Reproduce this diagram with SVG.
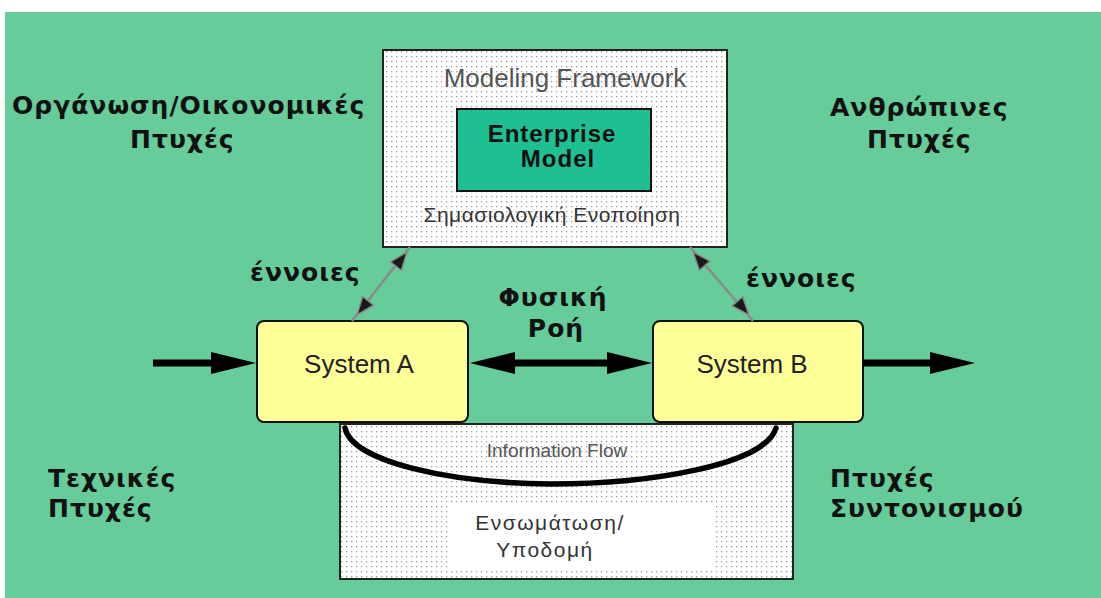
<svg xmlns="http://www.w3.org/2000/svg" xmlns:xlink="http://www.w3.org/1999/xlink" width="1101" height="598" viewBox="0 0 1101 598">
  <style>
    .lbl { font-family: "DejaVu Sans", "Liberation Sans", sans-serif; font-weight: bold; font-size: 25px; fill: #111; letter-spacing: 1px; }
    .sys { fill: #ffff99; stroke: #111; stroke-width: 2; }
    .sysTxt { font-family: "Liberation Sans", Arial, sans-serif; font-size: 26px; fill: #222; text-anchor: middle; }
    .dotted { fill: url(#dots); stroke: #222; stroke-width: 2; }
    .shaft { stroke: #000; stroke-width: 7; fill: none; }
    .concept { stroke: #8a8a8a; stroke-width: 2.5; fill: none; }
    .cHead { fill: #1a1a1a; stroke: #8a8a8a; stroke-width: 1.5; stroke-linejoin: round; }
    .greyTxt { font-family: "Liberation Sans", Arial, sans-serif; fill: #555; text-anchor: middle; }
    .darkTxt { font-family: "Liberation Sans", Arial, sans-serif; fill: #333; text-anchor: middle; }
  </style>
  <defs>
    <pattern id="dots" width="5" height="5" patternUnits="userSpaceOnUse">
      <rect width="5" height="5" fill="#ffffff"/>
      <rect x="1" y="1" width="1.3" height="1.3" fill="#9a9a9a"/>
    </pattern>
    <!-- heavy black arrowhead, tip at origin pointing +x -->
    <path id="headR" d="M-45,-11 L0,0 L-45,11 Z" fill="#000"/>
    <!-- small concept arrowhead, tip at origin pointing +x -->
    <path id="cHead" class="cHead" d="M0,0 L-18,-7 L-18,7 Z"/>
  </defs>

  <!-- background -->
  <rect width="1101" height="598" fill="#ffffff"/>
  <rect x="5" y="12" width="1096" height="586" fill="#66cc99"/>

  <!-- corner labels -->
  <g id="label-org">
    <text class="lbl" x="12" y="114">Οργάνωση/Οικονομικές</text>
    <text class="lbl" x="130" y="148">Πτυχές</text>
  </g>
  <g id="label-human">
    <text class="lbl" x="830" y="116">Ανθρώπινες</text>
    <text class="lbl" x="867" y="148">Πτυχές</text>
  </g>
  <g id="label-tech">
    <text class="lbl" x="48" y="487">Τεχνικές</text>
    <text class="lbl" x="48" y="517">Πτυχές</text>
  </g>
  <g id="label-coord">
    <text class="lbl" x="830" y="487">Πτυχές</text>
    <text class="lbl" x="830" y="517">Συντονισμού</text>
  </g>

  <!-- modeling framework -->
  <g id="modeling-framework">
    <rect class="dotted" x="383" y="50" width="344" height="197"/>
    <text class="greyTxt" x="565" y="87" font-size="26">Modeling Framework</text>
    <text class="darkTxt" x="552" y="222" font-size="21" letter-spacing="0.5">Σημασιολογική Ενοποίηση</text>
  </g>
  <g id="enterprise-model">
    <rect x="457" y="109" width="194" height="82" fill="#1fbf94" stroke="#111" stroke-width="2"/>
    <text x="552" y="142" font-family="Liberation Sans, Arial, sans-serif" font-weight="bold" font-size="24" fill="#111" text-anchor="middle" letter-spacing="1">Enterprise</text>
    <text x="558" y="167" font-family="Liberation Sans, Arial, sans-serif" font-weight="bold" font-size="24" fill="#111" text-anchor="middle" letter-spacing="1">Model</text>
  </g>

  <!-- infrastructure -->
  <g id="infrastructure">
    <rect class="dotted" x="340" y="424" width="453" height="155"/>
    <rect x="448" y="505" width="265" height="64" fill="#ffffff"/>
    <text class="greyTxt" x="557" y="457" font-size="19">Information Flow</text>
    <text class="darkTxt" x="550" y="530" font-size="21" letter-spacing="1.5">Ενσωμάτωση/</text>
    <text class="darkTxt" x="545" y="557" font-size="21" letter-spacing="1.5">Υποδομή</text>
  </g>

  <!-- systems -->
  <g id="system-a">
    <rect class="sys" x="257" y="321" width="211" height="101" rx="7"/>
    <text class="sysTxt" x="359" y="373">System A</text>
  </g>
  <g id="system-b">
    <rect class="sys" x="653" y="321" width="210" height="101" rx="7"/>
    <text class="sysTxt" x="752" y="373">System B</text>
  </g>

  <!-- middle labels -->
  <g id="label-concepts-left">
    <text class="lbl" x="250" y="281">έννοιες</text>
  </g>
  <g id="label-concepts-right">
    <text class="lbl" x="746" y="287">έννοιες</text>
  </g>
  <g id="label-physical-flow">
    <text class="lbl" x="553" y="306" text-anchor="middle">Φυσική</text>
    <text class="lbl" x="556" y="337" text-anchor="middle">Ροή</text>
  </g>

  <!-- connectors -->
  <g id="connectors">
    <!-- physical input / output / exchange -->
    <line class="shaft" x1="153" y1="363" x2="225" y2="363"/>
    <use xlink:href="#headR" transform="translate(256,363)"/>
    <line class="shaft" x1="863" y1="363" x2="945" y2="363"/>
    <use xlink:href="#headR" transform="translate(975,363)"/>
    <line class="shaft" x1="500" y1="363" x2="620" y2="363"/>
    <use xlink:href="#headR" transform="translate(470,363) rotate(180)"/>
    <use xlink:href="#headR" transform="translate(652,363)"/>

    <!-- concept links to the modeling framework -->
    <line class="concept" x1="352" y1="321" x2="410" y2="247"/>
    <use xlink:href="#cHead" transform="translate(407,252) rotate(-51.9)"/>
    <use xlink:href="#cHead" transform="translate(357,315) rotate(128.1)"/>
    <line class="concept" x1="690" y1="247" x2="753" y2="321"/>
    <use xlink:href="#cHead" transform="translate(693,252) rotate(-130.4)"/>
    <use xlink:href="#cHead" transform="translate(749,315) rotate(49.6)"/>

    <!-- information flow arc -->
    <path d="M345,428 C352,462 450,483 550,484 C650,484 765,465 776,428" fill="none" stroke="#000" stroke-width="5.5" stroke-linecap="round"/>
  </g>
</svg>
